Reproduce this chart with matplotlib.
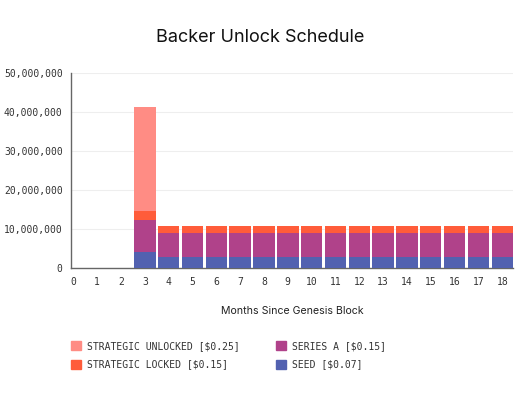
import matplotlib.pyplot as plt
import numpy as np
from matplotlib.patches import Patch
from matplotlib.ticker import FuncFormatter

months = np.arange(0, 19)
seed = [0, 0, 0, 4.2e6] + [3.0e6] * 15
series_a = [0, 0, 0, 8.1e6] + [6.0e6] * 15
strat_locked = [0, 0, 0, 2.3e6] + [1.95e6] * 15
strat_unlocked = [0, 0, 0, 26.6e6] + [0] * 15

labels = ["STRATEGIC UNLOCKED [$0.25]", "STRATEGIC LOCKED [$0.15]",
          "SERIES A [$0.15]", "SEED [$0.07]"]
colors = {"seed": "#5261b0", "series_a": "#b0428a",
          "locked": "#ff5c3a", "unlocked": "#ff8c84"}

mono = "DejaVu Sans Mono"

fig = plt.figure(figsize=(5.2, 4), dpi=100)
ax = fig.add_axes([0.1365, 0.329, 0.85, 0.489])

w = 0.9
bottom = np.zeros(len(months))
for vals, c in [(seed, colors["seed"]), (series_a, colors["series_a"]),
                (strat_locked, colors["locked"]), (strat_unlocked, colors["unlocked"])]:
    v = np.array(vals)
    ax.bar(months, v, width=w, bottom=bottom, color=c, linewidth=0, zorder=3)
    bottom += v

ax.set_ylim(0, 50e6)
ax.set_xlim(-0.1, 18.45)
ax.set_xticks(months)
ax.set_yticks(np.arange(0, 50e6 + 1, 10e6))
ax.yaxis.set_major_formatter(FuncFormatter(lambda v, p: f"{int(v):,}"))
for lab in ax.get_xticklabels() + ax.get_yticklabels():
    lab.set_fontfamily(mono)
    lab.set_fontsize(7)
    lab.set_color("#333333")
ax.tick_params(length=0, pad=6)
ax.grid(axis="y", color="#eeeeee", linewidth=0.8, zorder=0)
for s in ["top", "right"]:
    ax.spines[s].set_visible(False)
for s in ["left", "bottom"]:
    ax.spines[s].set_color("#666666")
    ax.spines[s].set_linewidth(1)

ax.set_xlabel("Months Since Genesis Block", fontfamily="Inter", fontsize=7.6,
              labelpad=14, color="#222222")
fig.text(0.5, 0.907, "Backer Unlock Schedule", ha="center", va="center",
         fontfamily="Inter", fontsize=13, color="#111111")

handles = [Patch(color=colors["unlocked"]), Patch(color=colors["locked"]),
           Patch(color=colors["series_a"]), Patch(color=colors["seed"])]
leg = fig.legend(handles, labels, loc="upper left", bbox_to_anchor=(0.12, 0.17),
                 ncol=2, frameon=False, handlelength=1.0, handleheight=1.0,
                 columnspacing=3.8, labelspacing=0.9, handletextpad=0.6,
                 prop={"family": mono, "size": 7})
for t in leg.get_texts():
    t.set_color("#333333")

fig.savefig("out.png", dpi=100)
